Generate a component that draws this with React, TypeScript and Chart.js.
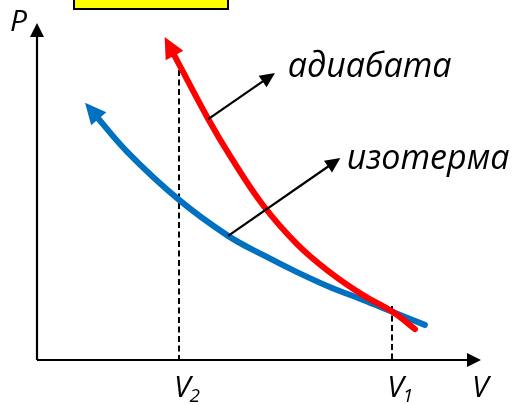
import React, { useEffect, useRef } from "react";
import { Chart, registerables } from "chart.js";

Chart.register(...registerables);

// Adiabatic compression curve (volume, pressure), from V1 side up to the arrow
const adiabatV = [1.85, 2.41, 2.72, 3.18, 3.66, 4.12, 4.59, 5.01, 5.32];
const adiabatP = [11.25, 8.58, 7.26, 5.52, 4.13, 3.13, 2.31, 1.71, 1.1];

// Isothermal compression curve (volume, pressure)
const isothermV = [0.75, 1.27, 2.0, 2.69, 3.18, 3.66, 4.12, 4.59, 5.01, 5.46];
const isothermP = [8.94, 7.41, 5.7, 4.42, 3.74, 3.13, 2.6, 2.14, 1.71, 1.25];

// Marked volumes on the V axis and the height of their dashed guides
const tickValues = [2, 5];
const tickSubscripts = ["2", "1"];
const guideTops = [10.33, 1.92];

// Curve names and their pointer arrows (start on curve -> tip near text)
const curveLabels = ["адиабата", "изотерма"];
const pointerFromV = [2.41, 2.69];
const pointerFromP = [8.58, 4.42];
const pointerToV = [3.35, 4.27];
const pointerToP = [10.22, 7.19];
const labelV = [3.53, 4.36];
const labelP = [10.08, 6.8];

const ITALIC = '"Open Sans", "DejaVu Sans", sans-serif';

function arrowHead(
  ctx: CanvasRenderingContext2D,
  tipX: number,
  tipY: number,
  dx: number,
  dy: number,
  len: number,
  half: number,
  color: string
) {
  const n = Math.hypot(dx, dy) || 1;
  const ux = dx / n;
  const uy = dy / n;
  const bx = tipX - ux * len;
  const by = tipY - uy * len;
  ctx.beginPath();
  ctx.moveTo(tipX, tipY);
  ctx.lineTo(bx - uy * half, by + ux * half);
  ctx.lineTo(bx + uy * half, by - ux * half);
  ctx.closePath();
  ctx.fillStyle = color;
  ctx.fill();
}

const diagramPlugin = {
  id: "pvDiagram",
  beforeDatasetsDraw(chart: any) {
    const { ctx, chartArea: a, scales } = chart;
    const x = scales.x;
    const y = scales.y;
    ctx.save();

    // title box at the top
    ctx.fillStyle = "#FFFF00";
    ctx.fillRect(74, -10, 154, 19);
    ctx.strokeStyle = "#000";
    ctx.lineWidth = 2;
    ctx.strokeRect(74, -10, 154, 19);

    // dashed guides at V2 and V1
    ctx.strokeStyle = "#000";
    ctx.lineWidth = 2;
    ctx.setLineDash([6, 3.5]);
    tickValues.forEach((v, i) => {
      const px = Math.round(x.getPixelForValue(v));
      ctx.beginPath();
      ctx.moveTo(px, y.getPixelForValue(guideTops[i]));
      ctx.lineTo(px, y.getPixelForValue(0));
      ctx.stroke();
    });
    ctx.setLineDash([]);

    // axes with arrowheads
    ctx.lineWidth = 2.2;
    ctx.beginPath();
    ctx.moveTo(a.left, a.bottom);
    ctx.lineTo(a.right - 12, a.bottom);
    ctx.moveTo(a.left, a.bottom);
    ctx.lineTo(a.left, a.top + 12);
    ctx.stroke();
    arrowHead(ctx, a.right, a.bottom, 1, 0, 14, 7, "#000");
    arrowHead(ctx, a.left, a.top, 0, -1, 14, 7, "#000");

    // axis labels
    ctx.fillStyle = "#000";
    ctx.textBaseline = "alphabetic";
    ctx.textAlign = "left";
    ctx.font = `italic 500 30px ${ITALIC}`;
    ctx.fillText("P", a.left - 27, a.top + 8);
    ctx.fillText("V", a.right - 9, a.bottom + 37);

    tickValues.forEach((v, i) => {
      const px = x.getPixelForValue(v);
      ctx.font = `italic 500 30px ${ITALIC}`;
      ctx.fillText("V", px - 5, a.bottom + 37);
      const w = ctx.measureText("V").width;
      ctx.font = `italic 500 19px ${ITALIC}`;
      ctx.fillText(tickSubscripts[i], px - 5 + w - 1, a.bottom + 42);
    });
    ctx.restore();
  },
  afterDatasetsDraw(chart: any) {
    const { ctx, scales } = chart;
    const x = scales.x;
    const y = scales.y;
    ctx.save();

    // arrowheads at the compressed end of each curve
    chart.data.datasets.forEach((ds: any, i: number) => {
      const meta = chart.getDatasetMeta(i);
      const p0 = meta.data[0];
      const p1 = meta.data[1];
      let dx = p0.x - (p0.cp2x ?? p1.x);
      let dy = p0.y - (p0.cp2y ?? p1.y);
      if (Math.hypot(dx, dy) < 0.5) {
        dx = p0.x - p1.x;
        dy = p0.y - p1.y;
      }
      const n = Math.hypot(dx, dy) || 1;
      const tipX = p0.x + (dx / n) * 8;
      const tipY = p0.y + (dy / n) * 8;
      arrowHead(ctx, tipX, tipY, dx, dy, 21, 10, ds.borderColor);
    });

    // pointer arrows to the curve names
    ctx.strokeStyle = "#000";
    ctx.lineWidth = 2.2;
    curveLabels.forEach((label, i) => {
      const sx = x.getPixelForValue(pointerFromV[i]);
      const sy = y.getPixelForValue(pointerFromP[i]);
      const tx = x.getPixelForValue(pointerToV[i]);
      const ty = y.getPixelForValue(pointerToP[i]);
      const dx = tx - sx;
      const dy = ty - sy;
      const n = Math.hypot(dx, dy);
      ctx.beginPath();
      ctx.moveTo(sx, sy);
      ctx.lineTo(tx - (dx / n) * 10, ty - (dy / n) * 10);
      ctx.stroke();
      arrowHead(ctx, tx, ty, dx, dy, 15, 7, "#000");

      ctx.fillStyle = "#000";
      ctx.font = `italic 500 34px ${ITALIC}`;
      ctx.textAlign = "left";
      ctx.textBaseline = "alphabetic";
      ctx.fillText(label, x.getPixelForValue(labelV[i]), y.getPixelForValue(labelP[i]));
    });
    ctx.restore();
  },
};

export default function App() {
  const canvasRef = useRef<HTMLCanvasElement | null>(null);

  useEffect(() => {
    const canvas = canvasRef.current;
    if (!canvas) return;
    const curve = (color: string, vs: number[], ps: number[]) => ({
      data: vs.map((v, i) => ({ x: v, y: ps[i] })),
      showLine: true,
      borderColor: color,
      backgroundColor: color,
      borderWidth: 6,
      borderCapStyle: "round" as const,
      borderJoinStyle: "round" as const,
      pointRadius: 0,
      tension: 0.4,
      fill: false,
      clip: false as const,
    });
    const chart = new Chart(canvas, {
      type: "scatter",
      data: {
        datasets: [
          curve("#FF0000", adiabatV, adiabatP),
          curve("#0070C0", isothermV, isothermP),
        ],
      },
      options: {
        responsive: false,
        animation: false,
        devicePixelRatio: 1,
        events: [],
        layout: { padding: { left: 37, right: 40, top: 23, bottom: 45 } },
        plugins: { legend: { display: false }, tooltip: { enabled: false } },
        scales: {
          x: { type: "linear", min: 0, max: 6.25, display: false },
          y: { type: "linear", min: 0, max: 12, display: false },
        },
      },
      plugins: [diagramPlugin],
    });
    return () => chart.destroy();
  }, []);

  return (
    <div style={{ position: "absolute", left: 0, top: 0, width: 521, height: 405, background: "#fff" }}>
      <canvas ref={canvasRef} width={521} height={405} style={{ display: "block" }} />
    </div>
  );
}
